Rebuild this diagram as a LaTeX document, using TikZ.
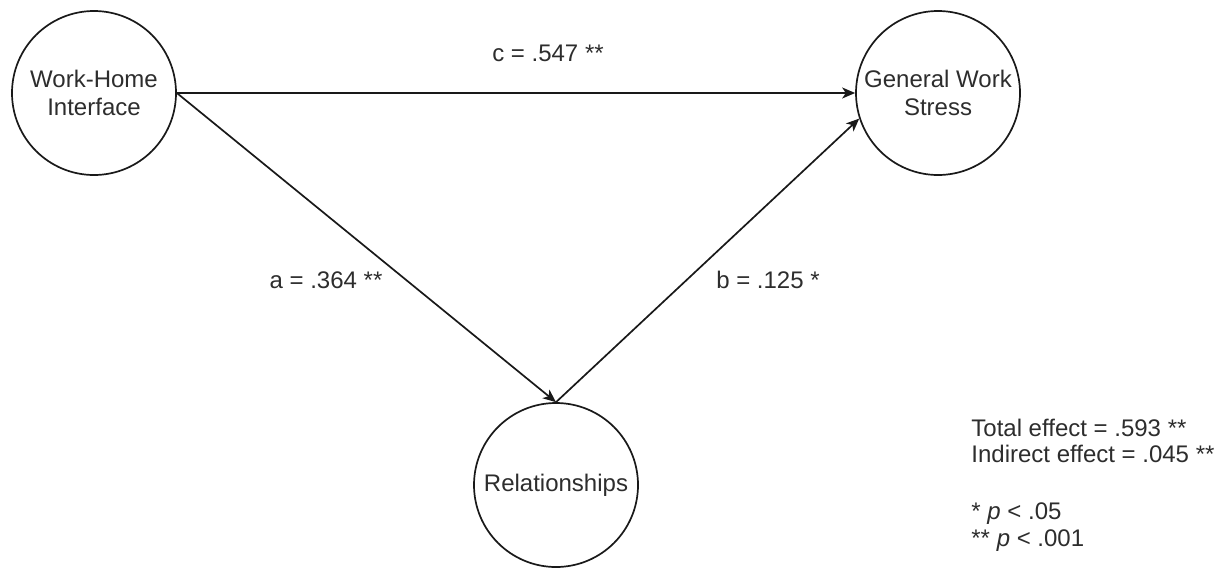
\documentclass[tikz,border=0pt]{standalone}
\usepackage{fontspec}
\setmainfont{Liberation Sans}
\usetikzlibrary{arrows.meta}
\definecolor{txt}{RGB}{45,45,45}
\begin{document}
\begin{tikzpicture}[x=0.5pt,y=-0.5pt,
  var/.style={circle,draw=black!90,line width=0.85pt,minimum size=82pt,inner sep=0pt,
    align=center,text=txt,font=\fontsize{12}{14}\selectfont},
  lbl/.style={text=txt,font=\fontsize{12}{14}\selectfont,inner sep=0pt},
  path/.style={draw=black!90,line width=0.85pt,-{Stealth[length=6.5pt,width=5.5pt,inset=1.8pt]}}]
\useasboundingbox (0,0) rectangle (1226,568);
\node[var] (wh) at (94,93) {Work-Home\\Interface};
\node[var] (gws) at (938,93) {General Work\\Stress};
\node[var] (rel) at (556,485) {Relationships};
\draw[path] (wh.east) -- (gws.west);
\draw[path] (wh.east) -- (rel.north);
\draw[path] (rel.north) -- (gws.198);
\node[lbl] (lc) at (548,53) {c = .547 **};
\node[lbl] (la) at (326,280) {a = .364 **};
\node[lbl] (lb) at (768,280) {b = .125 *};
\node[lbl,anchor=base west] (t1) at (971,436) {Total effect = .593 **};
\node[lbl,anchor=base west] (t2) at (971,462) {Indirect effect = .045 **};
\node[lbl,anchor=base west] (t3) at (971,519) {* \textit{p} < .05};
\node[lbl,anchor=base west] (t4) at (971,546) {** \textit{p} < .001};
\end{tikzpicture}
\end{document}
